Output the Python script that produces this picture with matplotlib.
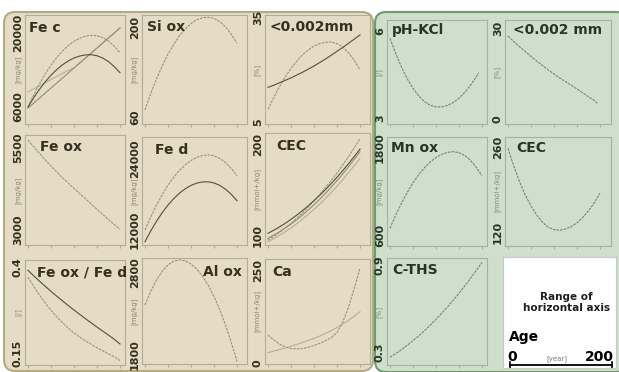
import matplotlib
matplotlib.use('Agg')
import matplotlib.pyplot as plt
from matplotlib.patches import FancyBboxPatch
from matplotlib.transforms import IdentityTransform

# ---- data (every 12.5 years) ----
age = [0, 12.5, 25, 37.5, 50, 62.5, 75, 87.5, 100, 112.5, 125, 137.5, 150, 162.5, 175, 187.5, 200]
age_ph = [0, 12.5, 25, 37.5, 50, 62.5, 75, 87.5, 100, 112.5, 125, 137.5, 150, 162.5, 175, 187.5, 193]
age_clay2 = [0, 12.5, 25, 37.5, 50, 62.5, 75, 87.5, 100, 112.5, 125, 137.5, 150, 162.5, 175, 187.5, 195]

fec_a = [6000, 8300, 10385, 12258, 13917, 15364, 16597, 17616, 18423, 19016, 19395, 19560,
         19493, 19132, 18474, 17520, 16270]
fec_b = [6000, 7762, 9350, 10766, 12010, 13082, 13981, 14708, 15263, 15645, 15855, 15890,
         15700, 15264, 14584, 13659, 12490]
fec_c = [5800, 6747, 7694, 8641, 9588, 10534, 11481, 12428, 13375, 14322, 15269, 16216,
         17163, 18109, 19056, 20003, 20950]
fec_d = [8840, 9430, 10020, 10610, 11200, 11790, 12380, 12900, 13380, 14322, 15269, 16216,
         17163, 18109, 19056, 20003, 20950]
siox = [71, 97, 120, 140, 159, 174, 188, 198, 207, 213, 216, 217, 215, 210, 202, 190, 176]
clay_a = [14.9, 15.5, 16.2, 16.9, 17.6, 18.4, 19.2, 20.1, 21.0, 22.0, 23.0, 24.1, 25.2, 26.3,
          27.5, 28.7, 29.9]
clay_b = [8.6, 12.0, 15.1, 17.9, 20.3, 22.4, 24.2, 25.6, 26.7, 27.4, 27.8, 27.9, 27.4, 26.4,
          24.8, 22.6, 19.9]
feox = [5740, 5535, 5335, 5140, 4950, 4770, 4595, 4430, 4270, 4110, 3950, 3790, 3630, 3475,
        3320, 3170, 3020]
fed_a = [12000, 14210, 16205, 17990, 19570, 20930, 22080, 23025, 23755, 24275, 24580, 24680,
         24530, 24100, 23390, 22400, 21130]
fed_b = [10020, 11840, 13475, 14930, 16210, 17310, 18230, 18975, 19535, 19920, 20125, 20145,
         19955, 19540, 18900, 18035, 16950]
cec_a = [94.4, 98.5, 102.9, 107.8, 113.0, 118.6, 124.7, 131.1, 137.9, 145.1, 152.7, 160.7,
         169.1, 177.9, 187.1, 196.7, 206.7]
cec_b = [101.9, 105.3, 109.0, 113.0, 117.4, 122.1, 127.1, 132.5, 138.2, 144.2, 150.5, 157.2,
         164.2, 171.5, 179.2, 187.2, 195.5]
cec_c = [96.3, 99.8, 103.6, 107.8, 112.2, 117.1, 122.2, 127.8, 133.6, 139.8, 146.3, 153.2,
         160.4, 167.9, 175.8, 184.0, 192.6]
cec_d = [92.6, 95.9, 99.6, 103.6, 107.9, 112.6, 117.6, 122.9, 128.5, 134.4, 140.7, 147.3,
         154.2, 161.5, 169.2, 177.0, 185.2]
ratio_a = [0.390, 0.374, 0.3585, 0.3435, 0.329, 0.315, 0.3012, 0.2877, 0.2747, 0.2619, 0.2494,
           0.2372, 0.2252, 0.2134, 0.2019, 0.1896, 0.176]
ratio_b = [0.370, 0.343, 0.318, 0.295, 0.274, 0.255, 0.238, 0.222, 0.208, 0.196, 0.185, 0.175,
           0.165, 0.156, 0.147, 0.139, 0.128]
alox = [2410, 2578, 2715, 2822, 2899, 2945, 2960, 2948, 2910, 2848, 2761, 2650, 2513, 2352,
        2166, 1955, 1720]
ca_a = [75, 62, 51, 43, 39, 38, 39, 42, 47, 53, 60, 68, 82, 110, 150, 200, 255]
ca_b = [28, 32, 36, 40.5, 45, 50, 55, 60.5, 66, 72.5, 79.5, 87, 95.5, 104.5, 114.5, 126, 138]

ph = [5.75, 5.22, 4.75, 4.35, 4.02, 3.76, 3.56, 3.44, 3.38, 3.38, 3.43, 3.53, 3.68, 3.88, 4.13,
      4.42, 4.56]
clay2 = [27.3, 25.5, 23.8, 22.2, 20.6, 19.1, 17.6, 16.2, 14.8, 13.5, 12.3, 11.1, 9.9, 8.6, 7.3,
         6.1, 5.0]
mnox = [692, 875, 1040, 1188, 1319, 1433, 1529, 1607, 1669, 1713, 1740, 1749, 1736, 1697, 1630,
        1536, 1414]
cec2 = [258, 229, 203, 181, 163, 148, 136, 128, 124, 123, 125, 129, 135, 144, 155, 168, 184]
cths = [0.263, 0.289, 0.316, 0.346, 0.378, 0.411, 0.447, 0.485, 0.525, 0.567, 0.611, 0.657,
        0.705, 0.755, 0.808, 0.862, 0.918]

W, H = 619, 372
fig = plt.figure(figsize=(W / 100, H / 100), dpi=100)
fig.patch.set_facecolor('white')

LEFT_BG, LEFT_EDGE = '#e4dcc4', '#b5aa80'
RIGHT_BG, RIGHT_EDGE = '#cfdfcb', '#6f9a72'

fig.add_artist(FancyBboxPatch((4, 1), 369, 359, boxstyle='round,pad=0,rounding_size=11',
                              transform=IdentityTransform(), fc=LEFT_BG, ec=LEFT_EDGE,
                              lw=1.5, zorder=-2))
fig.add_artist(FancyBboxPatch((375, 0), 252, 360, boxstyle='round,pad=0,rounding_size=11',
                              transform=IdentityTransform(), fc=RIGHT_BG, ec=RIGHT_EDGE,
                              lw=1.5, zorder=-2))

styles = {
    'dk': dict(color='#55503f', lw=0.8),
    'dt': dict(color='#959079', lw=0.75, ls=(0, (2.5, 1))),
    'lt': dict(color='#b3ad90', lw=0.75),
    'md': dict(color='#908a73', lw=0.75),
    'gr': dict(color='#6f806d', lw=0.75, ls=(0, (2.5, 1))),
}


def panel(box, title, unit, yticks, ylim, series, tpos, side='L', tha='left'):
    l, t, r, b = box
    ax = fig.add_axes([l / W, 1 - b / H, (r - l) / W, (b - t) / H])
    ax.set_facecolor('none')
    spine_c = '#b3ad97' if side == 'L' else '#a3b3a0'
    txt_c = '#35301f' if side == 'L' else '#283628'
    for s in ax.spines.values():
        s.set_color(spine_c)
        s.set_linewidth(0.8)
    for x, y, st in series:
        ax.plot(x, y, **styles[st])
    ax.set_xlim(-6.5, (r - l - 3) / 92 * 200)
    ax.set_ylim(*ylim)
    ax.set_xticks([0, 50, 100, 150, 200])
    ax.tick_params(axis='x', length=2, color=spine_c, labelbottom=False)
    ax.set_yticks(yticks)
    ax.set_yticklabels([str(v) for v in yticks], rotation=90, va='center',
                       fontsize=8, color=txt_c, fontweight='bold')
    ax.tick_params(axis='y', length=0, pad=1.5)
    ax.text(-0.075, 0.5, unit, transform=ax.transAxes, rotation=90, ha='center',
            va='center', fontsize=5, color='#8c8775' if side == 'L' else '#7d8e7b')
    ax.text(tpos[0], tpos[1], title, transform=ax.transAxes, ha=tha, va='center',
            fontsize=10, fontweight='bold', color=txt_c)
    return ax


# left group (beige)
panel((25, 15, 125, 124), 'Fe c', '[mg/kg]', [6000, 20000], (2784, 23406),
      [(age, fec_d, 'lt'), (age, fec_c, 'md'), (age, fec_a, 'dt'), (age, fec_b, 'dk')],
      (0.04, 0.88))
panel((142, 15, 247, 124), 'Si ox', '[mg/kg]', [60, 200], (49, 220.4),
      [(age, siox, 'dt')], (0.05, 0.89))
panel((265, 15, 370, 124), '<0.002mm', '[%]', [5, 35], (4.4, 35.6),
      [(age, clay_b, 'dt'), (age, clay_a, 'dk')], (0.04, 0.89))
panel((25, 135, 125, 245), 'Fe ox', '[mg/kg]', [3000, 5500], (2543, 5896),
      [(age, feox, 'dt')], (0.15, 0.89))
panel((142, 137, 247, 245), 'Fe d', '[mg/kg]', [12000, 24000], (9465, 27718),
      [(age, fed_a, 'dt'), (age, fed_b, 'dk')], (0.12, 0.88))
panel((265, 133, 370, 245), 'CEC', '[mmol+/kg]', [100, 200], (88.9, 213.3),
      [(age, cec_d, 'lt'), (age, cec_c, 'md'), (age, cec_a, 'dt'), (age, cec_b, 'dk')],
      (0.105, 0.88))
panel((25, 260, 125, 365), 'Fe ox / Fe d', '[/]', [0.15, 0.4], (0.115, 0.42),
      [(age, ratio_b, 'dt'), (age, ratio_a, 'dk')], (0.12, 0.885))
panel((142, 258, 247, 364), 'Al ox', '[mg/kg]', [1800, 2800], (1690, 2983),
      [(age, alox, 'dt')], (0.95, 0.87), tha='right')
panel((265, 259, 370, 364), 'Ca', '[mmol+/kg]', [0, 250], (-2.7, 279.6),
      [(age, ca_b, 'lt'), (age, ca_a, 'dt')], (0.065, 0.88))

# right group (green)
panel((387, 20, 487, 124), 'pH-KCl', '[/]', [3, 6], (2.79, 6.38),
      [(age_ph, ph, 'gr')], (0.05, 0.9), side='R')
panel((505, 20, 611, 124), '<0.002 mm', '[%]', [0, 30], (-1.65, 32.6),
      [(age_clay2, clay2, 'gr')], (0.075, 0.9), side='R')
panel((387, 137, 487, 246), 'Mn ox', '[mg/kg]', [600, 1800], (448, 1952),
      [(age, mnox, 'gr')], (0.04, 0.9), side='R')
panel((505, 137, 611, 246), 'CEC', '[mmol+/kg]', [120, 260], (97, 276.5),
      [(age, cec2, 'gr')], (0.11, 0.9), side='R')
panel((387, 258, 487, 365), 'C-THS', '[%]', [0.3, 0.9], (0.21, 0.948),
      [(age, cths, 'gr')], (0.05, 0.89), side='R')

# "range of horizontal axis" key
key = fig.add_axes([503 / W, 1 - 368 / H, 113 / W, 111 / H])
key.set_facecolor('white')
for s in key.spines.values():
    s.set_color('#c8c8c8')
    s.set_linewidth(0.8)
key.set_xticks([])
key.set_yticks([])
key.set_xlim(0, 1)
key.set_ylim(0, 1)
key.text(0.56, 0.59, 'Range of\nhorizontal axis', ha='center', va='center',
         fontsize=7.5, fontweight='bold', color='#1e1e1e', linespacing=1.1)
key.text(0.05, 0.28, 'Age', ha='left', va='center', fontsize=10, fontweight='bold',
         color='black')
key.text(0.08, 0.1, '0', ha='center', va='center', fontsize=10, fontweight='bold')
key.text(0.85, 0.1, '200', ha='center', va='center', fontsize=10, fontweight='bold')
key.text(0.48, 0.08, '[year]', ha='center', va='center', fontsize=5, color='#777777')
key.plot([0.06, 0.965], [0.027, 0.027], color='black', lw=1.3, clip_on=False)
key.plot([0.06, 0.06], [0.0, 0.05], color='black', lw=1.2, clip_on=False)
key.plot([0.965, 0.965], [0.0, 0.05], color='black', lw=1.2, clip_on=False)

fig.savefig('out.png', dpi=100, facecolor='white')
